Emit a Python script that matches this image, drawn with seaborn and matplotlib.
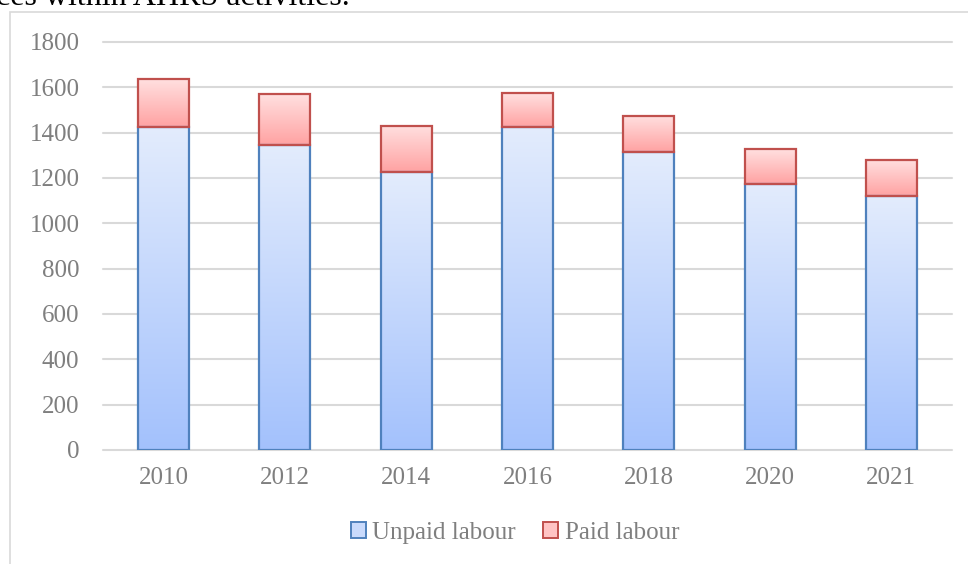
import numpy as np
import pandas as pd
import matplotlib
matplotlib.use("Agg")
import matplotlib.pyplot as plt
import seaborn as sns
from matplotlib.colors import LinearSegmentedColormap
from matplotlib.patches import Patch, Rectangle

# Data
years = ["2010", "2012", "2014", "2016", "2018", "2020", "2021"]
unpaid = [1427, 1347, 1225, 1427, 1313, 1174, 1119]
paid = [210, 224, 206, 150, 159, 153, 162]
y_ticks = [0, 200, 400, 600, 800, 1000, 1200, 1400, 1600, 1800]

df = pd.DataFrame({"Year": years, "Unpaid labour": unpaid, "Paid labour": paid})

sns.set_style("white")
plt.rcParams["font.family"] = ["Liberation Serif", "DejaVu Serif"]

W, H = 968, 564
fig = plt.figure(figsize=(W / 100, H / 100), dpi=100)
ax = fig.add_axes([103 / W, 1 - 450 / H, (952 - 103) / W, (450 - 42) / H])

blue_edge, red_edge = "#4f81bd", "#c0504d"

sns.barplot(data=df, x="Year", y="Unpaid labour", width=0.42, color="#c6d8fb",
            edgecolor=blue_edge, linewidth=1.6, ax=ax)
sns.barplot(data=df, x="Year", y="Paid labour", width=0.42, color="#ffc0c0",
            edgecolor=red_edge, linewidth=1.6, bottom=df["Unpaid labour"], ax=ax)


def gradient_fill(bars, top, bottom):
    cmap = LinearSegmentedColormap.from_list("g", [bottom, top])
    grad = np.linspace(0, 1, 256).reshape(-1, 1)
    for p in bars:
        x, y, w, h = p.get_x(), p.get_y(), p.get_width(), p.get_height()
        im = ax.imshow(grad, cmap=cmap, extent=[x, x + w, y, y + h], origin="lower",
                       aspect="auto", zorder=1.5, interpolation="bilinear")
        im.set_clip_path(p)
        p.set_facecolor("none")
        p.set_zorder(2)


gradient_fill(ax.containers[0], "#e3ecfd", "#a3c1fc")
gradient_fill(ax.containers[1], "#ffe0e0", "#ffa2a2")

ax.set_xlim(-0.5, len(years) - 0.5)
ax.set_ylim(0, 1800)
ax.set_yticks(y_ticks)
ax.set_xlabel("")
ax.set_ylabel("")
ax.set_axisbelow(True)
ax.yaxis.grid(True, color="#d9d9d9", linewidth=1.5)
for s in ax.spines.values():
    s.set_visible(False)
ax.tick_params(axis="both", length=0, labelsize=18, labelcolor="#7f7f7f")
ax.tick_params(axis="y", pad=17)
ax.tick_params(axis="x", pad=12)
for gl in ax.get_ygridlines():
    gl.set_clip_on(False)

handles = [Patch(facecolor="#c9dafc", edgecolor=blue_edge, linewidth=1.4),
           Patch(facecolor="#ffc4c4", edgecolor=red_edge, linewidth=1.4)]
leg = fig.legend(handles, ["Unpaid labour", "Paid labour"], loc="center",
                 bbox_to_anchor=(515 / W, 1 - 533 / H), ncol=2, frameon=False,
                 fontsize=18, handlelength=0.6, handleheight=0.6,
                 handletextpad=0.25, columnspacing=1.1, labelcolor="#7f7f7f")

# chart frame (extends past the right and bottom edges)
fig.add_artist(Rectangle((9.5 / W, -0.2), 1.2, 1 - 12 / H + 0.2, transform=fig.transFigure,
                         fill=False, edgecolor="#d9d9d9", linewidth=1.2))

# the cut-off line of document text above the chart
fig.text(-4 / W, 1 - 5 / H, "ces within AHRS activities.", fontsize=23,
         color="black", va="baseline", ha="left", fontfamily="Liberation Serif")

fig.savefig("out.png", dpi=100)
